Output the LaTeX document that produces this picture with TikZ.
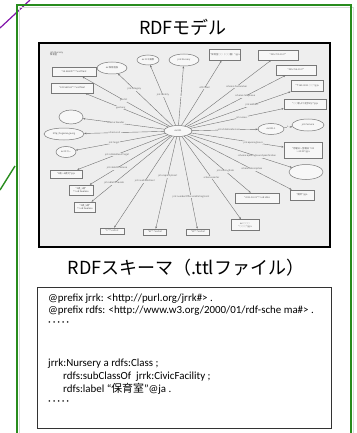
\documentclass[tikz,border=0pt]{standalone}
\usepackage{fontspec}
\setmainfont{Carlito}
\newfontfamily\jp{Noto Sans CJK JP}
\usetikzlibrary{shapes.geometric,arrows.meta}
\definecolor{framegreen}{RGB}{40,140,30}
\definecolor{linkpurple}{RGB}{130,20,170}
\definecolor{canvasgray}{RGB}{238,238,238}
\definecolor{nodeline}{RGB}{120,120,120}
\newcommand\gtiny{\jp\fontsize{2.3}{2.7}\selectfont}
\begin{document}
\begin{tikzpicture}[x=1pt,y=-1pt,
  heading/.style={font=\jp\fontsize{18}{20}\selectfont, inner sep=0},
  codeline/.style={anchor=base west, inner sep=0, font=\fontsize{10.9}{12}\selectfont},
  res/.style={ellipse, draw=nodeline, line width=0.5, fill=white!55!canvasgray,
    inner sep=0, font=\gtiny, text=black!65},
  lit/.style={rectangle, draw=nodeline, line width=0.65, fill=white!55!canvasgray,
    inner sep=0, font=\gtiny, text=black!65, align=center},
  rel/.style={draw=gray!90!black, line width=0.4, -{Stealth[length=2.2pt,width=1.8pt]}},
  elab/.style={font=\gtiny, fill=canvasgray, inner sep=0.3pt, text=black!60}]
\useasboundingbox (0,0) rectangle (356,433);
\clip (0,0) rectangle (356,433);

% connector strokes entering from the left
\coordinate (p1) at (0,28);
\coordinate (p2) at (30,0);
\draw[linkpurple, line width=1.2] (p1) -- (p2);
\coordinate (g1) at (0,190);
\coordinate (g2) at (15,166);
\draw[framegreen, line width=1.4] (g1) -- (g2);

% outer panel with soft shadow
\draw[gray!30, line width=1.4] (19.5,7.5) rectangle (353.5,445);
\draw[framegreen, line width=1.4] (17,5) rectangle (351,443);

% headings
\node[heading] (t1) at (183,27) {RDFモデル};
\node[heading] (t2) at (186,268) {RDFスキーマ（.ttlファイル）};

% graph canvas
\node[draw=black, line width=2, fill=canvasgray, anchor=north west,
  minimum width=291, minimum height=204, inner sep=0] (canvas) at (38,42) {};
\node[font=\gtiny, align=left, anchor=north west, inner sep=0, text=black!70] (hdr) at (50,51)
  {jrrk:Nursery\\保育室};

% subject
\node[res, minimum width=28, minimum height=11] (z) at (178,131) {ex:001};

% objects
\node[lit, minimum width=44, minimum height=9] (a) at (74,72) {"35.528097"\textasciicircum\textasciicircum xsd:float};
\node[lit, minimum width=42, minimum height=10] (q) at (72,88) {"139.581531"\textasciicircum\textasciicircum xsd:float};
\node[res, minimum width=30, minimum height=12] (b) at (112,68) {ex:保育施設};
\node[res, minimum width=22, minimum height=10] (c) at (148,60) {ex:ロゴ画像};
\node[res, minimum width=30, minimum height=12] (d) at (184,60) {jrrk:Nursery};
\node[lit, minimum width=31, minimum height=11] (e) at (225,55) {"保育室○○（○○園）"@ja};
\node[lit, minimum width=40, minimum height=10] (f) at (278,55) {"045-700-1127"};
\node[lit, minimum width=40, minimum height=10] (g) at (296,70) {"045-768-1127"};
\node[lit, minimum width=32, minimum height=11] (h) at (307,86) {"〒180-0011 ○○"@ja};
\node[lit, minimum width=42, minimum height=10] (i) at (305,104) {"○○駅より徒歩5分"@ja};
\node[res, minimum width=32, minimum height=12] (j) at (308,125) {jrrk:Service};
\node[res, minimum width=26, minimum height=11] (k) at (271,129) {ex:001-1};
\node[lit, minimum width=38, minimum height=16] (l) at (303,150) {"月曜日～金曜日 7:00\\～20:00"@ja};
\node[res, minimum width=34, minimum height=15] (m) at (306,172) {};
\node[lit, minimum width=24, minimum height=10] (n) at (302,195) {"開所"@ja};
\node[lit, minimum width=44, minimum height=10] (o) at (257,198) {"2013-04-01"\textasciicircum\textasciicircum xsd:date};
\node[lit, minimum width=28, minimum height=11] (pp) at (245,225) {ex:○○○\\"○○○"@ja};
\node[lit, minimum width=23, minimum height=6] (r1) at (198,232) {"10"\textasciicircum\textasciicircum xsd:int};
\node[lit, minimum width=23, minimum height=6] (r2) at (155,232) {"81"\textasciicircum\textasciicircum xsd:int};
\node[lit, minimum width=24, minimum height=6] (r3) at (112,231) {"0"\textasciicircum\textasciicircum xsd:int};
\node[res, minimum width=24, minimum height=14] (sx) at (71,117) {};
\node[res, minimum width=40, minimum height=12] (s) at (64,134) {http://logoimage.org};
\node[res, minimum width=20, minimum height=11] (t) at (66,152) {ex:ロゴー};
\node[lit, minimum width=32, minimum height=8] (u) at (66,174) {"0歳～5歳児"@ja};
\node[lit, minimum width=24, minimum height=10] (v) at (81,190) {"0歳\_3歳"\\\textasciicircum\textasciicircum xsd:boolean};
\node[lit, minimum width=21, minimum height=10] (w) at (85,207) {"0歳\_5歳"\\\textasciicircum\textasciicircum xsd:boolean};

% properties
\draw[rel] (z) -- node[elab, pos=0.53] {geo:lat} (a);
\draw[rel] (z) -- node[elab, pos=0.57] {geo:long} (q);
\draw[rel] (z) -- node[elab, pos=0.70] {jrrk:category} (b);
\draw[rel] (z) -- node[elab, pos=0.50] {jrrk:locality} (c);
\draw[rel] (z) -- node[elab, pos=0.50] {a} (d);
\draw[rel] (z) -- node[elab, pos=0.58] {rdfs:label} (e);
\draw[rel] (z) -- node[elab, pos=0.60] {schema:faxNumber} (f);
\draw[rel] (z) -- node[elab, pos=0.59] {schema:telephone} (g);
\draw[rel] (z) -- node[elab, pos=0.62] {jrrk:address} (h);
\draw[rel] (z) -- node[elab, pos=0.55] {jrrk:access} (i);
\draw[rel] (z) -- node[elab, pos=0.56] {jrrk:childcareService} (k);
\draw[rel] (k) -- node[elab, pos=0.45] {a} (j);
\draw[rel] (z) -- node[elab, pos=0.67] {jrrk:openingHours} (l);
\draw[rel] (z) -- node[elab, pos=0.66] {schema:openingHoursSpecification} (m);
\draw[rel] (z) -- node[elab, pos=0.62] {schema:description} (n);
\draw[rel] (z) -- node[elab, pos=0.62] {jrrk:closingDate} (o);
\draw[rel] (z) -- node[elab, pos=0.50] {schema:parter} (pp);
\draw[rel] (z) -- node[elab, pos=0.65] {jrrk:numberOfPersonWaitingFront} (r1);
\draw[rel] (z) -- node[elab, pos=0.43] {jrrk:capacityFront} (r2);
\draw[rel] (z) -- node[elab, pos=0.49] {jrrk:availableFront} (r3);
\draw[rel] (z) -- node[elab, pos=0.72] {jrrk:ableOfProvide} (w);
\draw[rel] (z) -- node[elab, pos=0.66] {jrrk:ableOfPromise} (v);
\draw[rel] (z) -- node[elab, pos=0.56] {jrrk:isAbleAboutTarget} (u);
\draw[rel] (z) -- node[elab, pos=0.57] {jrrk:target} (t);
\draw[rel] (z) -- node[elab, pos=0.62] {schema:url} (s);
\draw[rel] (z) -- node[elab, pos=0.60] {schema:founder} (sx);

% schema listing
\node[draw=black!80, line width=0.8, fill=white, anchor=north west,
  minimum width=294, minimum height=141, inner sep=0] (code) at (37,287) {};
\node[codeline] (c1) at (48,301) {@prefix jrrk: <http://purl.org/jrrk\#> .};
\node[codeline] (c2) at (48,313) {@prefix rdfs: <http://www.w3.org/2000/01/rdf-sche ma\#> .};
\node[codeline] (c3) at (48,325) {·\,·\,·\,·\,·};
\node[codeline] (c4) at (48,366) {jrrk:Nursery a rdfs:Class ;};
\node[codeline] (c5) at (63,379) {rdfs:subClassOf\ \ jrrk:CivicFacility ;};
\node[codeline] (c6) at (63,392) {rdfs:label “{\jp 保育室}”@ja .};
\node[codeline] (c7) at (48,404) {·\,·\,·\,·\,·};
\end{tikzpicture}
\end{document}
